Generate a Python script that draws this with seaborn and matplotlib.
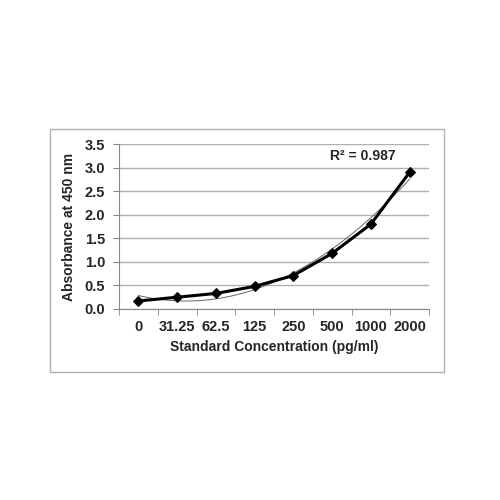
import numpy as np
import pandas as pd
import matplotlib
matplotlib.use('Agg')
import matplotlib.pyplot as plt
import seaborn as sns
from matplotlib.patches import Rectangle

concentrations = ['0', '31.25', '62.5', '125', '250', '500', '1000', '2000']
absorbance = [0.17, 0.25, 0.33, 0.48, 0.71, 1.18, 1.80, 2.90]

sns.set_style('white')
plt.rcParams['font.family'] = ['Liberation Sans', 'DejaVu Sans']

df = pd.DataFrame({'pos': np.arange(len(concentrations)), 'od': absorbance})

fig = plt.figure(figsize=(5, 5), dpi=100)
ax = fig.add_axes([0.238, 0.382, 0.62, 0.33])

# outer chart border
fig.patches.append(Rectangle((0.1, 0.256), 0.788, 0.486, transform=fig.transFigure,
                             fill=False, edgecolor='#b0b0b0', linewidth=1.0))

# polynomial trendline (order 2) from the data
coef = np.polyfit(df['pos'], df['od'], 2)
xs = np.linspace(0, len(concentrations) - 1, 200)
ax.plot(xs, np.polyval(coef, xs), color='#666666', linewidth=0.7, zorder=3)

sns.lineplot(data=df, x='pos', y='od', ax=ax, color='black', linewidth=2.2,
             marker='D', markersize=5, markeredgecolor='black', zorder=4)

ax.set_xlim(-0.5, len(concentrations) - 0.5)
ax.set_ylim(0, 3.5)
ax.set_yticks(np.arange(0, 3.51, 0.5))
ax.set_yticklabels([f'{v:.1f}' for v in np.arange(0, 3.51, 0.5)])
ax.yaxis.grid(True, color='#b0b0b0', linewidth=1.0)
ax.set_axisbelow(True)

ax.set_xticks(np.arange(len(concentrations)))
ax.set_xticklabels(concentrations)
ax.set_xticks(np.arange(-0.5, len(concentrations)), minor=True)
ax.tick_params(axis='x', which='major', length=0, pad=8, labelsize=10.5)
ax.tick_params(axis='x', which='minor', length=4, color='#888888', direction='out', bottom=True)
ax.tick_params(axis='y', length=4, color='#888888', direction='out', left=True, labelsize=10.5, pad=6)
for lab in ax.get_xticklabels() + ax.get_yticklabels():
    lab.set_fontweight('bold')

for s in ['top', 'right']:
    ax.spines[s].set_visible(False)
ax.spines['left'].set_color('#888888')
ax.spines['bottom'].set_color('#888888')

ax.set_xlabel('Standard Concentration (pg/ml)', fontsize=10, fontweight='bold', labelpad=4)
ax.set_ylabel('Absorbance at 450 nm', fontsize=10, fontweight='bold', labelpad=6)

ax.text(4.95, 3.25, 'R² = 0.987', fontsize=10, fontweight='bold', va='center', ha='left')

fig.savefig('out.png', dpi=100)
